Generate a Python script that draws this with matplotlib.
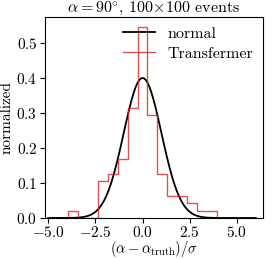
import numpy as np
import matplotlib
matplotlib.use("Agg")
import matplotlib.pyplot as plt
from matplotlib.lines import Line2D

plt.rcParams['font.family'] = 'serif'
plt.rcParams['font.serif'] = ['cmr10']
plt.rcParams['mathtext.fontset'] = 'cm'
plt.rcParams['axes.formatter.use_mathtext'] = True
plt.rcParams['font.size'] = 11
plt.rcParams['xtick.major.pad'] = 1.5
plt.rcParams['ytick.major.pad'] = 2

# histogram of pulls
bin_edges = [-3.94, -3.415, -2.89, -2.365, -1.84, -1.315, -0.79, -0.265,
             0.26, 0.785, 1.31, 1.835, 2.36, 2.885, 3.41, 3.935]
counts = [1, 0, 0, 5, 6, 8, 15, 26, 14, 6, 3, 3, 2, 1, 1]

# normal reference curve
x = np.linspace(-5, 6, 500)
pdf = np.exp(-0.5 * x**2) / np.sqrt(2 * np.pi)

red = '#d62728'

fig = plt.figure(figsize=(2.74, 2.59), dpi=100)
ax = fig.add_axes([45/274, 41/259, 218/274, 200.7/259])

ax.plot(x, pdf, color='black', lw=1.3)
ax.hist(bin_edges[:-1], bins=bin_edges, weights=counts, density=True,
        histtype='step', color=red, alpha=0.8, lw=1.0)

ax.set_xlim(-5.17, 6.38)
ax.set_ylim(0, 0.572)
ax.set_xticks([-5, -2.5, 0, 2.5, 5])
ax.set_xticklabels([r'$-5.0$', r'$-2.5$', r'$0.0$', r'$2.5$', r'$5.0$'])
ax.set_yticks([0, 0.1, 0.2, 0.3, 0.4, 0.5])
ax.set_yticklabels([r'$0.0$', r'$0.1$', r'$0.2$', r'$0.3$', r'$0.4$', r'$0.5$'])
ax.set_xlabel(r'$(\alpha-\alpha_{\rm truth})/\sigma$', fontsize=10.5, labelpad=-0.5)
ax.set_ylabel('normalized', labelpad=2)
ax.set_title(r'$\alpha=90^{\circ}$, $100\!\times\!100$ events', fontsize=11.5, pad=3)

handles = [Line2D([], [], color='black', lw=1.3),
           Line2D([], [], color=red, alpha=0.8, lw=1.0)]
ax.legend(handles, ['normal', 'Transfermer'], loc='upper right', frameon=False,
          fontsize=11.5, handlelength=2.0, borderaxespad=0.2, labelspacing=0.35)

fig.savefig('out.png', dpi=100)
